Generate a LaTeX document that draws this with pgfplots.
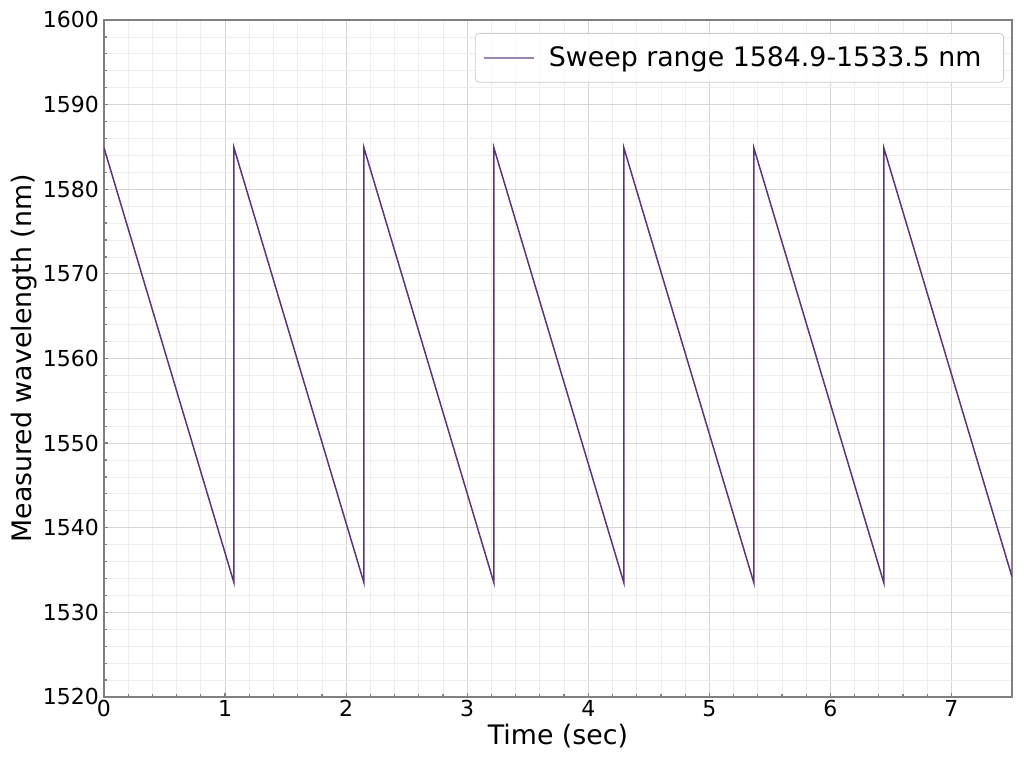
\documentclass[border=0pt]{standalone}
\usepackage{fontspec}
\setmainfont{DejaVu Sans}
\usepackage{pgfplots}
\pgfplotsset{compat=1.18}
\definecolor{sweep}{RGB}{90,52,130}
\definecolor{spine}{RGB}{128,128,128}
\definecolor{majgrid}{RGB}{214,214,214}
\definecolor{mingrid}{RGB}{238,238,238}
\begin{document}
\begin{tikzpicture}
\begin{axis}[
  scale only axis,
  width=454pt, height=338.5pt,
  xmin=0, xmax=7.5,
  ymin=1520, ymax=1600,
  xtick={0,1,...,7},
  ytick={1520,1530,...,1600},
  minor x tick num=4,
  minor y tick num=4,
  grid=both,
  major grid style={majgrid, line width=0.5pt},
  minor grid style={mingrid, line width=0.4pt},
  axis line style={spine, line width=0.8pt},
  tick style={spine, line width=0.6pt},
  major tick length=2pt,
  minor tick length=1.5pt,
  tick align=inside,
  xtick pos=bottom, ytick pos=left,
  /pgf/number format/assume math mode=true,
  /pgf/number format/1000 sep={},
  tick label style={font=\fontsize{11}{13}\selectfont, black},
  xticklabel style={yshift=2pt},
  yticklabel style={xshift=1pt},
  label style={font=\fontsize{13.4}{16}\selectfont},
  xlabel={Time (sec)},
  ylabel={Measured wavelength (nm)},
  xlabel style={yshift=3pt},
  ylabel style={yshift=-4pt},
  legend style={at={(1,1)}, anchor=north east, xshift=-4pt, yshift=-6.5pt,
    draw=mingrid!70!gray, rounded corners=2pt, fill=white, fill opacity=0.85,
    text opacity=1, font=\fontsize{13.4}{16}\selectfont,
    inner xsep=4pt, inner ysep=4.5pt,
    nodes={inner xsep=7pt}},
  legend cell align=left,
  legend image code/.code={\draw[sweep!60, line width=0.8pt] (0pt,0pt) -- (25pt,0pt);},
]
\addplot[sweep, line width=0.75pt] coordinates {
(0,1584.9) (1.0735,1533.5)
(1.0735,1584.9) (2.147,1533.5)
(2.147,1584.9) (3.2205,1533.5)
(3.2205,1584.9) (4.294,1533.5)
(4.294,1584.9) (5.3675,1533.5)
(5.3675,1584.9) (6.441,1533.5)
(6.441,1584.9) (7.5,1534.2)
};
\addlegendentry{Sweep range 1584.9-1533.5 nm}
\end{axis}
\path (current axis.south west) ++(-52pt,-35.5pt) coordinate (bl);
\path (current axis.north east) ++(6pt,10pt) coordinate (tr);
\useasboundingbox (bl) rectangle (tr);
\end{tikzpicture}
\end{document}
